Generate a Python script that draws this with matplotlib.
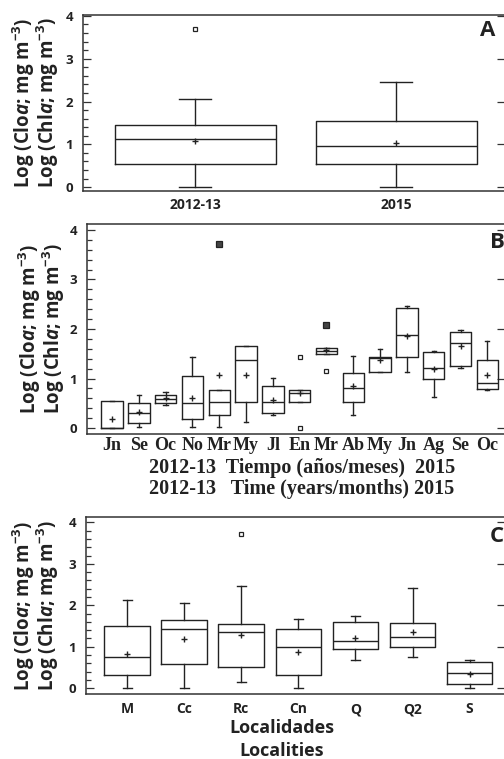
import matplotlib
matplotlib.use("Agg")
import matplotlib.pyplot as plt
from matplotlib.ticker import MultipleLocator

plt.rcParams['mathtext.fontset'] = 'custom'
plt.rcParams['mathtext.rm'] = 'Open Sans:bold'
plt.rcParams['mathtext.it'] = 'Open Sans:italic:bold'
plt.rcParams['mathtext.bf'] = 'Open Sans:bold'

# --- Panel A: por periodo
years = ["2012-13", "2015"]
years_q1 = [0.53, 0.53]
years_med = [1.13, 0.97]
years_q3 = [1.46, 1.54]
years_wlo = [0.0, 0.0]
years_whi = [2.06, 2.46]
years_mean = [1.08, 1.02]
years_out = [[3.69], []]
years_far = [[], []]

# --- Panel B: por mes
months = ["Jn", "Se", "Oc", "No", "Mr", "My", "Jl", "En",
          "Mr", "Ab", "My", "Jn", "Ag", "Se", "Oc"]
months_q1 = [0.00, 0.11, 0.51, 0.19, 0.26, 0.53, 0.31, 0.53,
             1.49, 0.53, 1.14, 1.44, 1.00, 1.25, 0.79]
months_med = [0.00, 0.30, 0.59, 0.51, 0.53, 1.37, 0.53, 0.71,
              1.56, 0.81, 1.42, 1.88, 1.21, 1.72, 0.90]
months_q3 = [0.54, 0.51, 0.67, 1.06, 0.77, 1.66, 0.85, 0.77,
             1.62, 1.12, 1.43, 2.42, 1.53, 1.93, 1.37]
months_wlo = [0.00, 0.02, 0.46, 0.02, 0.02, 0.13, 0.27, 0.53,
              1.49, 0.27, 1.14, 1.14, 0.63, 1.21, 0.76]
months_whi = [0.54, 0.67, 0.73, 1.44, 0.77, 1.66, 1.01, 0.77,
              1.62, 1.45, 1.59, 2.47, 1.55, 1.98, 1.75]
months_mean = [0.19, 0.32, 0.60, 0.61, 1.07, 1.07, 0.57, 0.70,
               1.57, 0.84, 1.37, 1.86, 1.20, 1.65, 1.08]
months_out = [[], [], [], [], [], [], [], [1.43, 0.0],
              [1.16], [], [], [], [], [], []]
months_far = [[], [], [], [], [3.72], [], [], [],
              [2.08], [], [], [], [], [], []]

# --- Panel C: por localidad
sites = ["M", "Cc", "Rc", "Cn", "Q", "Q2", "S"]
sites_q1 = [0.31, 0.59, 0.51, 0.31, 0.95, 0.99, 0.10]
sites_med = [0.75, 1.42, 1.35, 0.99, 1.15, 1.23, 0.37]
sites_q3 = [1.50, 1.64, 1.56, 1.44, 1.60, 1.57, 0.64]
sites_wlo = [0.0, 0.0, 0.16, 0.0, 0.67, 0.75, 0.0]
sites_whi = [2.12, 2.06, 2.47, 1.68, 1.74, 2.41, 0.67]
sites_mean = [0.83, 1.18, 1.29, 0.88, 1.22, 1.35, 0.35]
sites_out = [[], [], [3.71], [], [], [], []]
sites_far = [[], [], [], [], [], [], []]

INK = '#222222'
SANS = 'Open Sans'
SERIF = 'Liberation Serif'
YLAB1 = r"Log (Clo$\it{a}$; mg m$^{-3}$)"
YLAB2 = r"Log (Chl$\it{a}$; mg m$^{-3}$)"

W, H = 504, 759
fig = plt.figure(figsize=(W / 100, H / 100), dpi=100)


def px_axes(left, top, bottom, right=505):
    return fig.add_axes([left / W, 1 - bottom / H, (right - left) / W, (bottom - top) / H])


def draw_panel(ax, labels, q1, med, q3, wlo, whi, mean, out, far, xlim, ylim):
    stats = []
    for i in range(len(labels)):
        stats.append(dict(q1=q1[i], med=med[i], q3=q3[i], whislo=wlo[i],
                          whishi=whi[i], mean=mean[i], fliers=out[i]))
    pos = list(range(1, len(labels) + 1))
    ax.bxp(stats, positions=pos, widths=0.8, capwidths=0.16, showmeans=True,
           boxprops=dict(color=INK, lw=1.0),
           medianprops=dict(color=INK, lw=1.0),
           whiskerprops=dict(color=INK, lw=1.0),
           capprops=dict(color=INK, lw=1.0),
           meanprops=dict(marker='+', markeredgecolor=INK, markersize=5, markeredgewidth=1.0),
           flierprops=dict(marker='s', markerfacecolor='white', markeredgecolor=INK,
                           markersize=3.5, markeredgewidth=0.9))
    for p, vals in zip(pos, far):
        for v in vals:
            ax.plot(p, v, 's', mfc='#444444', mec=INK, ms=3.8, mew=0.9)
    ax.set_xlim(*xlim)
    ax.set_ylim(*ylim)
    ax.set_xticks(pos)
    ax.set_xticklabels(labels)
    ax.set_yticks([0, 1, 2, 3, 4])
    ax.yaxis.set_minor_locator(MultipleLocator(0.2))
    for s in ax.spines.values():
        s.set_color('#333333')
        s.set_linewidth(1.1)
    ax.tick_params(axis='x', length=0)
    ax.tick_params(axis='y', which='both', direction='in', left=True, right=True,
                   color='#333333', width=0.9)
    ax.tick_params(axis='y', which='major', length=6, pad=7)
    ax.tick_params(axis='y', which='minor', length=3.5)
    ax.tick_params(axis='y', which='minor', right=False)
    for t in ax.get_yticklabels():
        t.set_fontfamily(SANS)
        t.set_fontweight('bold')
        t.set_fontsize(9.5)
        t.set_color(INK)


def ylabels(ax, x1, x2):
    b = ax.get_position()
    yc = (b.y0 + b.y1) / 2
    fig.text(x1 / W, yc, YLAB1, rotation=90, ha='center', va='center',
             fontsize=13.5, fontfamily=SANS, fontweight='bold', color=INK)
    fig.text(x2 / W, yc, YLAB2, rotation=90, ha='center', va='center',
             fontsize=13.5, fontfamily=SANS, fontweight='bold', color=INK)


# A
axA = px_axes(83, 15, 191)
draw_panel(axA, years, years_q1, years_med, years_q3, years_wlo, years_whi,
           years_mean, years_out, years_far, (0.443, 2.54), (-0.09, 4.02))
axA.tick_params(axis='x', pad=5)
for t in axA.get_xticklabels():
    t.set_fontfamily(SANS)
    t.set_fontweight('bold')
    t.set_fontsize(10)
    t.set_color(INK)
axA.text(480 / W, 1 - 31 / H, "A", transform=fig.transFigure, ha='left', va='center',
         fontsize=16, fontfamily=SANS, fontweight='bold', color=INK)
ylabels(axA, 24, 48)

# B
axB = px_axes(87, 224, 434)
draw_panel(axB, months, months_q1, months_med, months_q3, months_wlo, months_whi,
           months_mean, months_out, months_far, (0.067, 15.66), (-0.12, 4.12))
axB.tick_params(axis='x', pad=2)
for t in axB.get_xticklabels():
    t.set_fontfamily(SERIF)
    t.set_fontweight('bold')
    t.set_fontsize(13)
    t.set_color(INK)
axB.set_xlabel("2012-13  Tiempo (años/meses)  2015\n2012-13   Time (years/months) 2015",
               fontfamily=SERIF, fontweight='bold', fontsize=14.5, linespacing=1.1, color=INK)
axB.xaxis.set_label_coords((302 - 87) / (505 - 87), -(458 - 434) / (434 - 224))
axB.xaxis.label.set_va('top')
axB.text(490 / W, 1 - 242 / H, "B", transform=fig.transFigure, ha='left', va='center',
         fontsize=16, fontfamily=SANS, fontweight='bold', color=INK)
ylabels(axB, 30, 54)

# C
axC = px_axes(86, 517, 694)
draw_panel(axC, sites, sites_q1, sites_med, sites_q3, sites_wlo, sites_whi,
           sites_mean, sites_out, sites_far, (0.28, 7.62), (-0.14, 4.13))
axC.tick_params(axis='x', pad=6)
for t in axC.get_xticklabels():
    t.set_fontfamily(SANS)
    t.set_fontweight('bold')
    t.set_fontsize(10)
    t.set_color(INK)
axC.set_xlabel("Localidades\nLocalities", fontfamily=SANS, fontweight='bold',
               fontsize=13, linespacing=1.35, color=INK)
axC.xaxis.set_label_coords((282 - 86) / (505 - 86), -(719 - 694) / (694 - 517))
axC.xaxis.label.set_va('top')
axC.text(490 / W, 1 - 537 / H, "C", transform=fig.transFigure, ha='left', va='center',
         fontsize=16, fontfamily=SANS, fontweight='bold', color=INK)
ylabels(axC, 24, 48)

fig.savefig("out.png", dpi=100)
